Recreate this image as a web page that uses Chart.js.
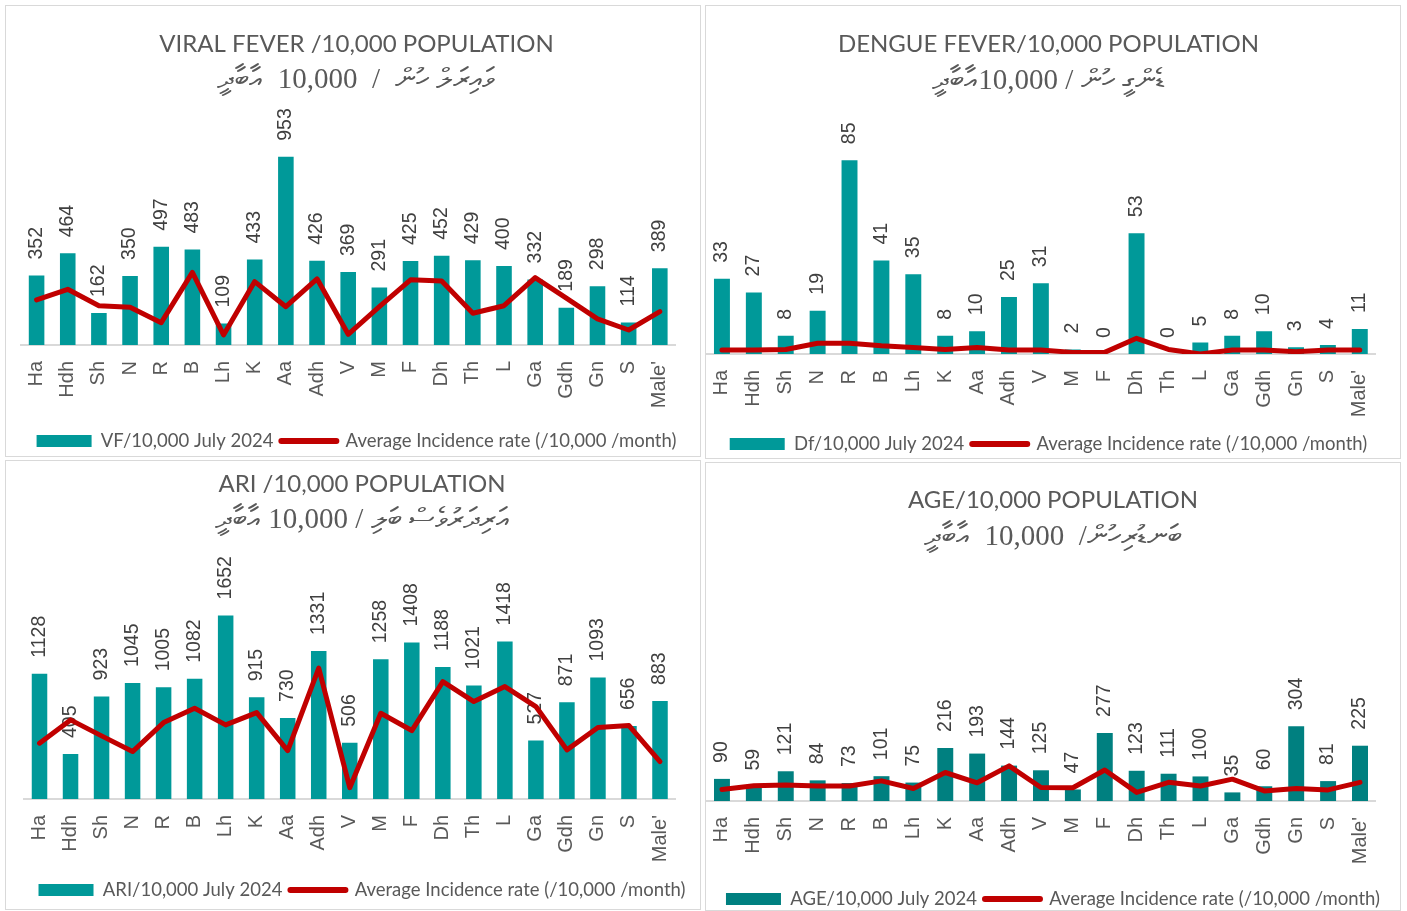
<!DOCTYPE html>
<html>
<head>
<meta charset="utf-8">
<script src="https://cdn.jsdelivr.net/npm/chart.js@4.4.1/dist/chart.umd.min.js"></script>
<style>
html,body{margin:0;padding:0;background:#fff;}
body{width:1407px;height:911px;position:relative;overflow:hidden;}
.panel{position:absolute;border:1px solid #d9d9d9;box-sizing:border-box;background:#fff;}
.panel canvas{position:absolute;left:0;top:0;}
</style>
</head>
<body>
<div class="panel" style="left:5px;top:5px;width:696px;height:452px"><canvas id="c1"></canvas></div>
<div class="panel" style="left:705px;top:5px;width:696px;height:454px"><canvas id="c2"></canvas></div>
<div class="panel" style="left:5px;top:460px;width:696px;height:450px"><canvas id="c3"></canvas></div>
<div class="panel" style="left:705px;top:462px;width:696px;height:449px"><canvas id="c4"></canvas></div>
<script>
// ---------- data ----------
const atolls = ["Ha","Hdh","Sh","N","R","B","Lh","K","Aa","Adh","V","M","F","Dh","Th","L","Ga","Gdh","Gn","S","Male'"];

const vfJuly    = [352,464,162,350,497,483,109,433,953,426,369,291,425,452,429,400,332,189,298,114,389];
const vfAverage = [228,282,199,191,113,368,51,321,194,335,54,194,330,324,161,199,341,237,132,76,169];

const dfJuly    = [33,27,8,19,85,41,35,8,10,25,31,2,0,53,0,5,8,10,3,4,11];
const dfAverage = [1.8,1.8,2,4.7,4.7,3.6,2.9,2,2.9,1.8,1.8,0.7,0.7,6.9,2,0,1.8,1.8,1,1.8,1.8];

const ariJuly    = [1128,405,923,1045,1005,1082,1652,915,730,1331,506,1258,1408,1188,1021,1418,527,871,1093,656,883];
const ariAverage = [502,712,568,427,688,817,667,778,436,1178,102,772,616,1057,877,1012,832,442,643,661,336];

const ageJuly    = [90,59,121,84,73,101,75,216,193,144,125,47,277,123,111,100,35,60,304,81,225];
const ageAverage = [47,62,65,61,61,82,51,116,74,143,55,54,126,35,76,61,89,41,51,45,76];

const avgLabel = "Average Incidence rate (/10,000 /month)";

// ---------- plugin: rotated value labels above bars ----------
const barValueLabels = {
  id: 'barValueLabels',
  afterDatasetDraw(chart, args) {
    if (args.meta.type !== 'bar') return;
    const ctx = chart.ctx;
    const ds = chart.data.datasets[args.index];
    ctx.save();
    ctx.font = '19.5px "Liberation Sans", Arial, sans-serif';
    ctx.fillStyle = '#404040';
    ctx.textAlign = 'left';
    ctx.textBaseline = 'middle';
    args.meta.data.forEach((bar, i) => {
      ctx.save();
      ctx.translate(bar.x, bar.y - 16);
      ctx.rotate(-Math.PI / 2);
      ctx.fillText(String(ds.data[i]), 0, 0);
      ctx.restore();
    });
    ctx.restore();
  }
};

function buildChart(id, o) {
  const cv = document.getElementById(id);
  const panel = cv.parentElement;
  const W = panel.clientWidth, H = panel.clientHeight;
  cv.width = W; cv.height = H;
  cv.style.width = W + 'px'; cv.style.height = H + 'px';
  const tSize = 24, sSize = 29, legFont = 18.5, legPad = 8;
  const tPadTop = o.titleY - 0.6 * tSize;
  const sPadTop = o.subY - 0.6 * sSize - (o.titleY + 0.6 * tSize);
  const sPadBot = o.plotTop - (o.subY + 0.6 * sSize);
  const legendTop = o.legendY - legPad - legFont / 2;
  const legendH = H - legendTop;
  const axisH = legendTop - o.baseY;

  return new Chart(cv, {
    type: 'bar',
    data: {
      labels: atolls,
      datasets: [
        { type: 'bar', label: o.barLabel, data: o.bars, backgroundColor: o.color,
          categoryPercentage: 1, barPercentage: 0.5, order: 1 },
        { type: 'line', label: avgLabel, data: o.avg, borderColor: '#C00000', backgroundColor: '#C00000',
          borderWidth: 5, pointRadius: 0, tension: 0, borderJoinStyle: 'round', borderCapStyle: 'round',
          fill: false, order: 0 }
      ]
    },
    options: {
      responsive: false,
      animation: false,
      devicePixelRatio: 1,
      layout: { padding: { left: o.padL, right: o.padR, top: 0, bottom: 0 } },
      plugins: {
        tooltip: { enabled: false },
        title: { display: true, text: o.title, color: '#595959',
          font: { family: 'Lato', size: tSize, weight: 'normal' },
          padding: { top: tPadTop, bottom: 0 } },
        subtitle: { display: true, text: o.sub, color: '#595959',
          font: { family: '"Liberation Serif", "Times New Roman", serif', size: sSize, weight: 'normal' },
          padding: { top: sPadTop, bottom: sPadBot } },
        legend: {
          position: 'bottom', maxHeight: legendH,
          labels: {
            usePointStyle: true, pointStyleWidth: 55, boxWidth: 55, boxHeight: 12,
            padding: legPad, color: '#595959', font: { family: 'Lato', size: legFont },
            generateLabels: chart => chart.data.datasets.map((ds, i) => ({
              text: ds.label, datasetIndex: i, hidden: false,
              fillStyle: i === 0 ? ds.backgroundColor : ds.borderColor,
              strokeStyle: i === 0 ? ds.backgroundColor : ds.borderColor,
              lineWidth: i === 0 ? 0 : 6,
              pointStyle: i === 0 ? 'rect' : 'line',
              lineCap: 'round', fontColor: '#595959'
            }))
          }
        }
      },
      scales: {
        x: {
          offset: true,
          grid: { display: false, drawTicks: false },
          border: { display: true, color: '#d9d9d9', width: 2 },
          ticks: { autoSkip: false, minRotation: 90, maxRotation: 90, padding: 16, color: '#595959',
            font: { family: '"Liberation Sans", Arial, sans-serif', size: 20 } },
          afterFit: s => { s.height = axisH; }
        },
        y: { display: false, min: 0, max: o.yMax }
      }
    },
    plugins: [barValueLabels]
  });
}

buildChart('c1', {
  title: 'VIRAL FEVER /10,000 POPULATION',
  sub: 'ވައިރަލް ހުން  /  10,000  އާބާދީ',
  barLabel: 'VF/10,000 July 2024', bars: vfJuly, avg: vfAverage, color: '#009999',
  yMax: 1200, titleY: 38, subY: 74, plotTop: 102, baseY: 339, legendY: 435, padL: 15, padR: 8
});
buildChart('c2', {
  title: 'DENGUE FEVER/10,000 POPULATION',
  sub: 'ޑެންގީ ހުން / 10,000އާބާދީ',
  barLabel: 'Df/10,000 July 2024', bars: dfJuly, avg: dfAverage, color: '#009999',
  yMax: 100, titleY: 38, subY: 75, plotTop: 120, baseY: 348, legendY: 438, padL: 0, padR: 9
});
buildChart('c3', {
  title: 'ARI /10,000 POPULATION',
  sub: 'އަރިދަރުވެސް ބަލި / 10,000 އާބާދީ',
  barLabel: 'ARI/10,000 July 2024', bars: ariJuly, avg: ariAverage, color: '#009999',
  yMax: 1800, titleY: 23, subY: 59, plotTop: 138, baseY: 338, legendY: 429, padL: 18, padR: 0
});
buildChart('c4', {
  title: 'AGE/10,000 POPULATION',
  sub: 'ބަނޑުރިހުން/  10,000  އާބާދީ',
  barLabel: 'AGE/10,000 July 2024', bars: ageJuly, avg: ageAverage, color: '#008080',
  yMax: 350, titleY: 37, subY: 74, plotTop: 252, baseY: 338, legendY: 436, padL: 0, padR: 0
});
</script>
</body>
</html>
